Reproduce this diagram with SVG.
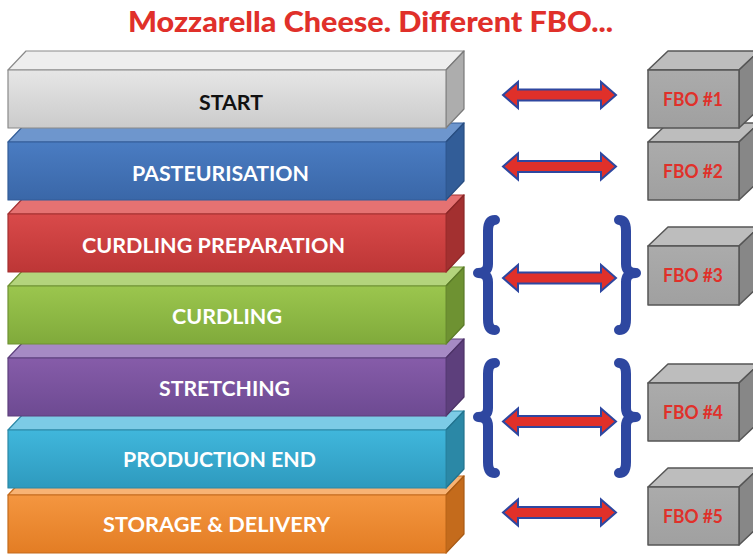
<svg xmlns="http://www.w3.org/2000/svg" width="753" height="556" viewBox="0 0 753 556">
  <defs>
    <linearGradient id="gStart" x1="0" y1="0" x2="0" y2="1"><stop offset="0" stop-color="#e6e6e6"/><stop offset="1" stop-color="#cbcbcb"/></linearGradient>
    <linearGradient id="gPast" x1="0" y1="0" x2="0" y2="1"><stop offset="0" stop-color="#4a7cc2"/><stop offset="1" stop-color="#3a67a8"/></linearGradient>
    <linearGradient id="gPrep" x1="0" y1="0" x2="0" y2="1"><stop offset="0" stop-color="#d94a4a"/><stop offset="1" stop-color="#bd3636"/></linearGradient>
    <linearGradient id="gCurd" x1="0" y1="0" x2="0" y2="1"><stop offset="0" stop-color="#9bc64e"/><stop offset="1" stop-color="#80aa3b"/></linearGradient>
    <linearGradient id="gStre" x1="0" y1="0" x2="0" y2="1"><stop offset="0" stop-color="#865ca9"/><stop offset="1" stop-color="#6d4a92"/></linearGradient>
    <linearGradient id="gProd" x1="0" y1="0" x2="0" y2="1"><stop offset="0" stop-color="#40b7dc"/><stop offset="1" stop-color="#2e9abe"/></linearGradient>
    <linearGradient id="gStor" x1="0" y1="0" x2="0" y2="1"><stop offset="0" stop-color="#f49640"/><stop offset="1" stop-color="#e37d24"/></linearGradient>
    <linearGradient id="gBox" x1="0" y1="0" x2="0" y2="1"><stop offset="0" stop-color="#ababab"/><stop offset="1" stop-color="#a0a0a0"/></linearGradient>
  </defs>
  <style>
    .lbl { font-family: Lato, "Liberation Sans", sans-serif; font-weight: bold; font-size: 21px; fill: #ffffff; }
    .dark { fill: #111111; }
    .fbo { font-family: Lato, "Liberation Sans", sans-serif; font-weight: bold; font-size: 18px; fill: #e0302a; }
    .title { font-family: Lato, "Liberation Sans", sans-serif; font-weight: 900; font-size: 28px; fill: #e0302a; }
    .edge { stroke-width: 1.2; stroke-linejoin: round; }
    .box { stroke: #555555; stroke-width: 1.5; stroke-linejoin: round; }
    .arrow { fill: #e0302a; stroke: #2e47a0; stroke-width: 2; stroke-linejoin: miter; }
    .brace { fill: none; stroke: #2e47a0; stroke-width: 10; stroke-linecap: round; stroke-linejoin: round; }
  </style>

  <rect width="753" height="556" fill="#ffffff"/>

  <text class="title" x="128" y="32" textLength="485" lengthAdjust="spacingAndGlyphs">Mozzarella Cheese. Different FBO...</text>

  <!-- process stages, drawn bottom-up so upper slabs overlap lower ones -->
  <g id="stage-storage">
    <path class="edge" d="M8,495 L446,495 L464,476 L26,476 Z" fill="#f8b374" stroke="#c46b1c"/>
    <path class="edge" d="M446,495 L464,476 L464,534 L446,553 Z" fill="#c46b1c" stroke="#a85a14"/>
    <rect class="edge" x="8" y="495" width="438" height="58" fill="url(#gStor)" stroke="#c46b1c"/>
    <text class="lbl" x="103" y="532" textLength="227" lengthAdjust="spacingAndGlyphs">STORAGE &amp; DELIVERY</text>
  </g>
  <g id="stage-production-end">
    <path class="edge" d="M8,430 L446,430 L464,411 L26,411 Z" fill="#7ccbe6" stroke="#2b88a6"/>
    <path class="edge" d="M446,430 L464,411 L464,469 L446,488 Z" fill="#2b88a6" stroke="#22738e"/>
    <rect class="edge" x="8" y="430" width="438" height="58" fill="url(#gProd)" stroke="#2b88a6"/>
    <text class="lbl" x="123" y="467" textLength="193" lengthAdjust="spacingAndGlyphs">PRODUCTION END</text>
  </g>
  <g id="stage-stretching">
    <path class="edge" d="M8,358 L446,358 L464,339 L26,339 Z" fill="#a68ac4" stroke="#5d3f7c"/>
    <path class="edge" d="M446,358 L464,339 L464,397 L446,416 Z" fill="#5d3f7c" stroke="#4c3266"/>
    <rect class="edge" x="8" y="358" width="438" height="58" fill="url(#gStre)" stroke="#5d3f7c"/>
    <text class="lbl" x="159" y="395.5" textLength="131" lengthAdjust="spacingAndGlyphs">STRETCHING</text>
  </g>
  <g id="stage-curdling">
    <path class="edge" d="M8,286 L446,286 L464,267 L26,267 Z" fill="#b3d47c" stroke="#6e9232"/>
    <path class="edge" d="M446,286 L464,267 L464,325 L446,344 Z" fill="#6e9232" stroke="#5a7a28"/>
    <rect class="edge" x="8" y="286" width="438" height="58" fill="url(#gCurd)" stroke="#6e9232"/>
    <text class="lbl" x="172" y="323.5" textLength="110" lengthAdjust="spacingAndGlyphs">CURDLING</text>
  </g>
  <g id="stage-curdling-preparation">
    <path class="edge" d="M8,214 L446,214 L464,195 L26,195 Z" fill="#e57272" stroke="#a33030"/>
    <path class="edge" d="M446,214 L464,195 L464,253 L446,272 Z" fill="#a33030" stroke="#8a2626"/>
    <rect class="edge" x="8" y="214" width="438" height="58" fill="url(#gPrep)" stroke="#a33030"/>
    <text class="lbl" x="82" y="252.5" textLength="263" lengthAdjust="spacingAndGlyphs">CURDLING PREPARATION</text>
  </g>
  <g id="stage-pasteurisation">
    <path class="edge" d="M8,142 L446,142 L464,123 L26,123 Z" fill="#6e96cd" stroke="#325d98"/>
    <path class="edge" d="M446,142 L464,123 L464,181 L446,200 Z" fill="#325d98" stroke="#284d80"/>
    <rect class="edge" x="8" y="142" width="438" height="58" fill="url(#gPast)" stroke="#325d98"/>
    <text class="lbl" x="132" y="181" textLength="177" lengthAdjust="spacingAndGlyphs">PASTEURISATION</text>
  </g>
  <g id="stage-start">
    <path class="edge" d="M8,70 L446,70 L464,51 L26,51 Z" fill="#eeeeee" stroke="#8a8a8a"/>
    <path class="edge" d="M446,70 L464,51 L464,109 L446,128 Z" fill="#adadad" stroke="#7a7a7a"/>
    <rect class="edge" x="8" y="70" width="438" height="58" fill="url(#gStart)" stroke="#8a8a8a"/>
    <text class="lbl dark" x="199" y="109.5" textLength="64" lengthAdjust="spacingAndGlyphs">START</text>
  </g>

  <!-- food business operators -->
  <g id="fbo-2">
    <path class="box" d="M648,142 L739,142 L759,123 L668,123 Z" fill="#bdbdbd"/>
    <path class="box" d="M739,142 L759,123 L759,181 L739,200 Z" fill="#878787"/>
    <rect class="box" x="648" y="142" width="91" height="58" fill="url(#gBox)"/>
    <text class="fbo" x="663" y="178" textLength="60" lengthAdjust="spacingAndGlyphs">FBO #2</text>
  </g>
  <g id="fbo-1">
    <path class="box" d="M648,70 L739,70 L759,51 L668,51 Z" fill="#bdbdbd"/>
    <path class="box" d="M739,70 L759,51 L759,109 L739,128 Z" fill="#878787"/>
    <rect class="box" x="648" y="70" width="91" height="58" fill="url(#gBox)"/>
    <text class="fbo" x="663" y="105.5" textLength="60" lengthAdjust="spacingAndGlyphs">FBO #1</text>
  </g>
  <g id="fbo-3">
    <path class="box" d="M648,246 L739,246 L759,227 L668,227 Z" fill="#bdbdbd"/>
    <path class="box" d="M739,246 L759,227 L759,286 L739,305 Z" fill="#878787"/>
    <rect class="box" x="648" y="246" width="91" height="59" fill="url(#gBox)"/>
    <text class="fbo" x="663" y="281.5" textLength="60" lengthAdjust="spacingAndGlyphs">FBO #3</text>
  </g>
  <g id="fbo-4">
    <path class="box" d="M648,383 L739,383 L759,364 L668,364 Z" fill="#bdbdbd"/>
    <path class="box" d="M739,383 L759,364 L759,422 L739,441 Z" fill="#878787"/>
    <rect class="box" x="648" y="383" width="91" height="58" fill="url(#gBox)"/>
    <text class="fbo" x="663" y="419" textLength="60" lengthAdjust="spacingAndGlyphs">FBO #4</text>
  </g>
  <g id="fbo-5">
    <path class="box" d="M648,487 L739,487 L759,468 L668,468 Z" fill="#bdbdbd"/>
    <path class="box" d="M739,487 L759,468 L759,526 L739,545 Z" fill="#878787"/>
    <rect class="box" x="648" y="487" width="91" height="58" fill="url(#gBox)"/>
    <text class="fbo" x="663" y="523" textLength="60" lengthAdjust="spacingAndGlyphs">FBO #5</text>
  </g>

  <!-- links between stages and operators -->
  <g id="connectors">
    <path class="arrow" d="M503,95 L518,82 L518,89.5 L601,89.5 L601,82 L616,95 L601,108 L601,100.5 L518,100.5 L518,108 Z"/>
    <path class="arrow" d="M503,166.5 L518,153.5 L518,161 L601,161 L601,153.5 L616,166.5 L601,179.5 L601,172 L518,172 L518,179.5 Z"/>
    <path class="arrow" d="M503,278 L518,265 L518,272.5 L601,272.5 L601,265 L616,278 L601,291 L601,283.5 L518,283.5 L518,291 Z"/>
    <path class="arrow" d="M503,421.5 L518,408.5 L518,416 L601,416 L601,408.5 L616,421.5 L601,434.5 L601,427 L518,427 L518,434.5 Z"/>
    <path class="arrow" d="M503,512.5 L518,499.5 L518,507 L601,507 L601,499.5 L616,512.5 L601,525.5 L601,518 L518,518 L518,525.5 Z"/>

    <path class="brace" d="M495,220 Q488,220 488,231 L488,264 Q488,273 478,273 Q488,273 488,282 L488,319 Q488,330 495,330"/>
    <path class="brace" d="M619,220 Q626,220 626,231 L626,264 Q626,273 636,273 Q626,273 626,282 L626,319 Q626,330 619,330"/>
    <path class="brace" d="M495,363 Q488,363 488,374 L488,408 Q488,417 478,417 Q488,417 488,426 L488,462 Q488,473 495,473"/>
    <path class="brace" d="M619,363 Q626,363 626,374 L626,408 Q626,417 636,417 Q626,417 626,426 L626,462 Q626,473 619,473"/>
  </g>
</svg>
